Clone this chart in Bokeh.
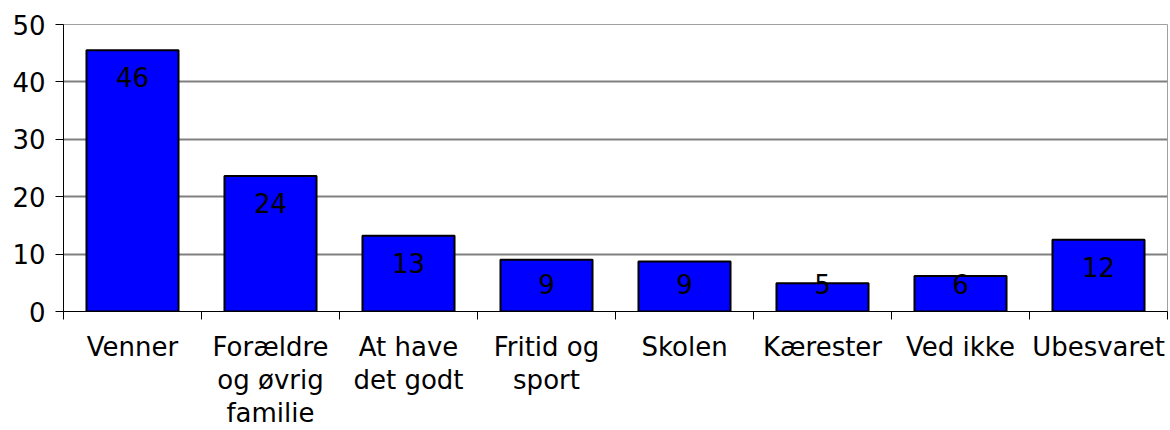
import numpy as np
from bokeh.plotting import figure
from bokeh.models import ColumnDataSource, FixedTicker, LabelSet, Range1d
from bokeh.core.properties import value
from bokeh.embed import file_html
from bokeh.resources import INLINE

categories = ["Venner", "Forældre\nog øvrig\nfamilie", "At have\ndet godt", "Fritid og\nsport",
              "Skolen", "Kærester", "Ved ikke", "Ubesvaret"]
values = [45.5, 23.6, 13.2, 9.0, 8.7, 4.9, 6.2, 12.5]
y_ticks = [0, 10, 20, 30, 40, 50]

n = len(categories)
xs = np.arange(n) + 0.5
labels = [f"{round(v):d}" for v in values]
label_y = [max(v, 9.5) for v in values]

src = ColumnDataSource(dict(x=xs, top=values, lab=labels, ly=label_y))

FONT = "DejaVu Sans"
FS = "26px"

p = figure(width=1170, height=430, output_backend="svg", toolbar_location=None,
           x_range=Range1d(0, n), y_range=Range1d(0, 50),
           min_border_left=63, min_border_right=3, min_border_top=24, min_border_bottom=0)

p.vbar(x="x", top="top", width=0.667, source=src, fill_color="#0000FF",
       line_color="black", line_width=2)

p.add_layout(LabelSet(x="x", y="ly", text="lab", source=src, y_offset=-27,
                      text_align="center", text_baseline="middle",
                      text_font=value(FONT), text_font_size=value(FS), text_color="black"))

p.xaxis.ticker = FixedTicker(ticks=list(xs), minor_ticks=list(range(n + 1)))
p.xaxis.major_label_overrides = {float(x): c for x, c in zip(xs, categories)}
p.xaxis.major_tick_line_color = None
p.xaxis.minor_tick_line_color = "black"
p.xaxis.minor_tick_out = 8
p.xaxis.minor_tick_in = 0
p.xaxis.axis_line_color = "black"
p.xaxis.major_label_standoff = 12
p.xaxis.major_label_text_font = FONT
p.xaxis.major_label_text_font_size = FS
p.xaxis.major_label_text_line_height = 1.1
p.xaxis.major_label_text_color = "black"

p.yaxis.ticker = FixedTicker(ticks=y_ticks, minor_ticks=[])
p.yaxis.major_tick_out = 8
p.yaxis.major_tick_in = 0
p.yaxis.major_tick_line_color = "black"
p.yaxis.axis_line_color = "black"
p.yaxis.major_label_standoff = 10
p.yaxis.major_label_text_font = FONT
p.yaxis.major_label_text_font_size = FS
p.yaxis.major_label_text_color = "black"

p.xgrid.grid_line_color = None
p.ygrid.grid_line_color = "#808080"
p.ygrid.grid_line_width = 2
p.ygrid.ticker = FixedTicker(ticks=y_ticks)
p.outline_line_color = "#a0a0a0"
p.background_fill_color = "white"
p.border_fill_color = "white"

open("out.html", "w").write(file_html(p, INLINE))
